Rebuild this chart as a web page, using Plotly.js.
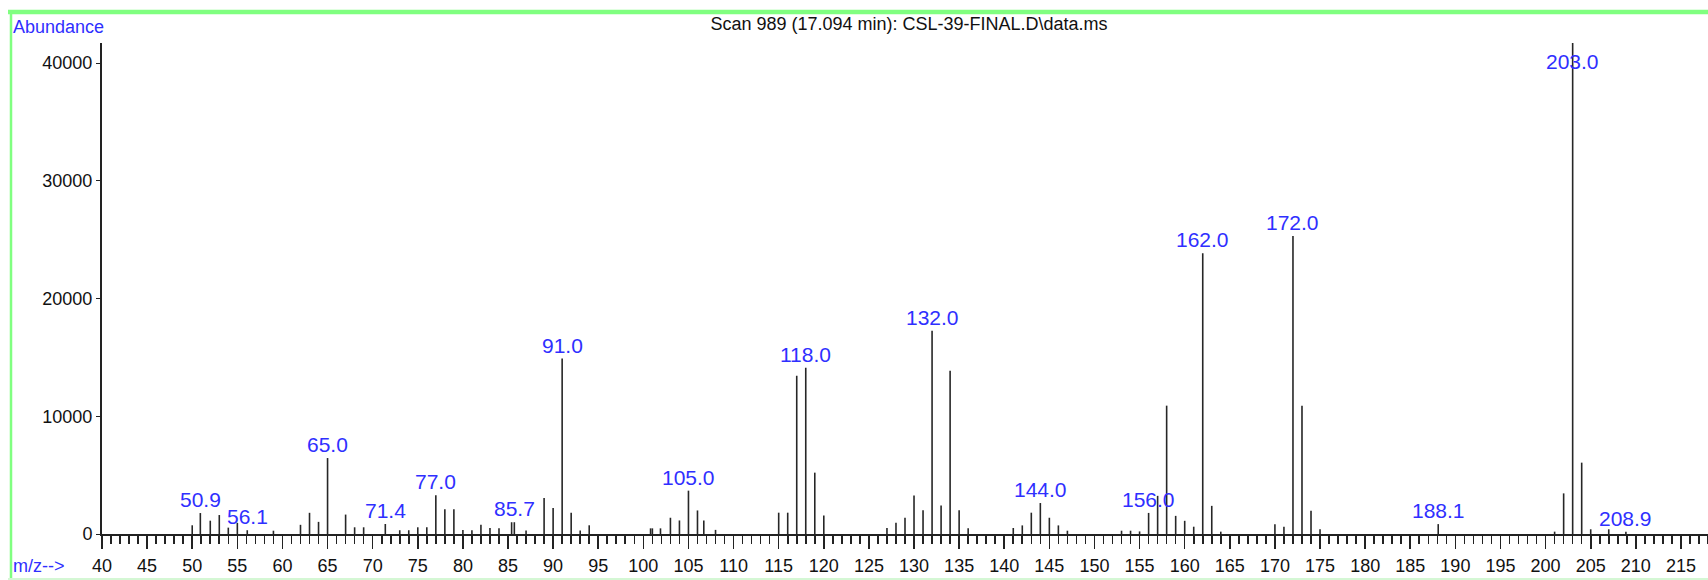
<!DOCTYPE html>
<html>
<head>
<meta charset="utf-8">
<script src="https://cdn.plot.ly/plotly-3.0.1.min.js"></script>
<style>
html,body{margin:0;padding:0;background:#fff;}
#chart{width:1708px;height:580px;}
</style>
</head>
<body>
<div id="chart"></div>
<script>
// m/z values of the centroided peaks
const mz = [
  50, 50.9, 52, 53, 54, 55, 56.1, 59,
  62, 63, 64, 65.0, 67, 68, 69, 71.4, 73, 74, 75, 76,
  77.0, 78, 79, 80, 81, 82, 83, 84, 85.4, 85.7, 87,
  89, 90, 91.0, 92, 93, 94,
  100.8, 101.0, 101.9, 103, 104, 105.0, 106, 106.7, 108,
  115, 116, 117, 118.0, 119, 120,
  127, 128, 129, 130, 131, 132.0, 133, 134, 135, 136,
  141, 142, 143, 144.0, 145, 146, 147,
  153, 154, 155, 156.0, 157, 158, 159, 160, 161, 162.0, 163, 164,
  170, 171, 172.0, 173, 174, 175,
  188.1,
  201, 202, 203.0, 204, 205, 207, 208.9
];
// abundance of each peak
const abundance = [
  740, 1780, 1130, 1610, 540, 950, 320, 280,
  780, 1800, 1030, 6450, 1650, 570, 570, 850, 320, 320, 570, 570,
  3300, 2100, 2100, 350, 320, 780, 500, 480, 1000, 1000, 300,
  3050, 2200, 14900, 1800, 290, 740,
  480, 480, 480, 1380, 1150, 3680, 2000, 1150, 350,
  1810, 1810, 13440, 14120, 5210, 1580,
  510, 950, 1380, 3280, 2010, 17270, 2430, 13870, 2010, 480,
  510, 730, 1810, 2630, 1380, 730, 280,
  280, 280, 220, 1790, 3240, 10900, 1540, 1120, 620, 23840, 2390, 200,
  820, 620, 25310, 10900, 1970, 400,
  840,
  200, 3450, 41700, 6060, 400, 400, 200
];
// peaks that carry a label
const labelMz = [50.9, 56.1, 65.0, 71.4, 77.0, 85.7, 91.0, 105.0, 118.0, 132.0, 144.0, 156.0, 162.0, 172.0, 188.1, 203.0, 208.9];
const yTicks = [0, 10000, 20000, 30000, 40000];
const xRange = [40, 218];
const yRange = [0, 41700];

const FONT = "'Liberation Sans', Arial, sans-serif";
const BLUE = '#2f2fff';

// stick segments
const xs = [], ys = [];
mz.forEach((m, i) => { xs.push(m, m, null); ys.push(0, abundance[i], null); });

const LABEL_CAP = 39000;
const annotations = labelMz.map(l => {
  const i = mz.indexOf(l);
  return {
    x: l, y: Math.min(abundance[i], LABEL_CAP), xref: 'x', yref: 'y',
    text: l.toFixed(1), showarrow: false, xanchor: 'center', yanchor: 'bottom',
    yshift: 1, borderpad: 0,
    font: {family: FONT, size: 21, color: BLUE}
  };
});

const L = 102, T = 43, W = 1708, H = 580, B = 46;
const pw = W - L, ph = H - T - B;
const px2x = p => (p - L) / pw;
const py2y = p => (H - B - p) / ph;

annotations.push({
  xref: 'paper', yref: 'paper', x: px2x(11), y: py2y(27), xanchor: 'left', yanchor: 'middle',
  text: 'Abundance', showarrow: false, font: {family: FONT, size: 18, color: BLUE}
});
annotations.push({
  xref: 'paper', yref: 'paper', x: px2x(11), y: py2y(566), xanchor: 'left', yanchor: 'middle',
  text: 'm/z-->', showarrow: false, font: {family: FONT, size: 18, color: BLUE}
});

const shapes = [
  {type: 'line', xref: 'paper', yref: 'paper', x0: px2x(8), x1: 1.01, y0: py2y(12), y1: py2y(12),
   line: {color: '#80ff80', width: 4.5}, layer: 'above'},
  {type: 'line', xref: 'paper', yref: 'paper', x0: px2x(11), x1: px2x(11), y0: py2y(582), y1: py2y(10),
   line: {color: '#80ff80', width: 2.5}, layer: 'above'},
  {type: 'line', xref: 'paper', yref: 'paper', x0: px2x(8), x1: 1.01, y0: py2y(579), y1: py2y(579),
   line: {color: '#d4f7d4', width: 2}, layer: 'above'}
];

const trace = {
  type: 'scatter', mode: 'lines', x: xs, y: ys,
  line: {color: '#262626', width: 1.6}, hoverinfo: 'skip', showlegend: false, cliponaxis: true
};

const layout = {
  width: W, height: H,
  margin: {l: L, r: 0, t: T, b: B, pad: 0},
  paper_bgcolor: '#fff', plot_bgcolor: '#fff',
  showlegend: false,
  title: {
    text: 'Scan 989 (17.094 min): CSL-39-FINAL.D\\data.ms',
    x: 909 / W, xref: 'container', xanchor: 'center',
    y: 1 - 24 / H, yref: 'container', yanchor: 'middle',
    font: {family: FONT, size: 18, color: '#111'}
  },
  xaxis: {
    range: xRange, tickmode: 'linear', tick0: 40, dtick: 5,
    ticks: 'outside', ticklen: 13, tickwidth: 1.6, tickcolor: '#222',
    showline: true, linecolor: '#222', linewidth: 2,
    showgrid: false, zeroline: false, fixedrange: true,
    ticklabelstandoff: 1,
    tickfont: {family: FONT, size: 18, color: '#111'},
    minor: {dtick: 1, tick0: 40, ticks: 'outside', ticklen: 8, tickwidth: 1.6, tickcolor: '#222', showgrid: false}
  },
  yaxis: {
    range: yRange, tickmode: 'array', tickvals: yTicks, ticktext: yTicks.map(String),
    ticks: 'outside', ticklen: 4, tickwidth: 1, tickcolor: '#222',
    showline: true, linecolor: '#222', linewidth: 2,
    showgrid: false, zeroline: false, fixedrange: true,
    ticklabelstandoff: 0,
    tickfont: {family: FONT, size: 18, color: '#111'}
  },
  annotations: annotations,
  shapes: shapes
};

Plotly.newPlot('chart', [trace], layout, {staticPlot: true, displayModeBar: false});
</script>
</body>
</html>
